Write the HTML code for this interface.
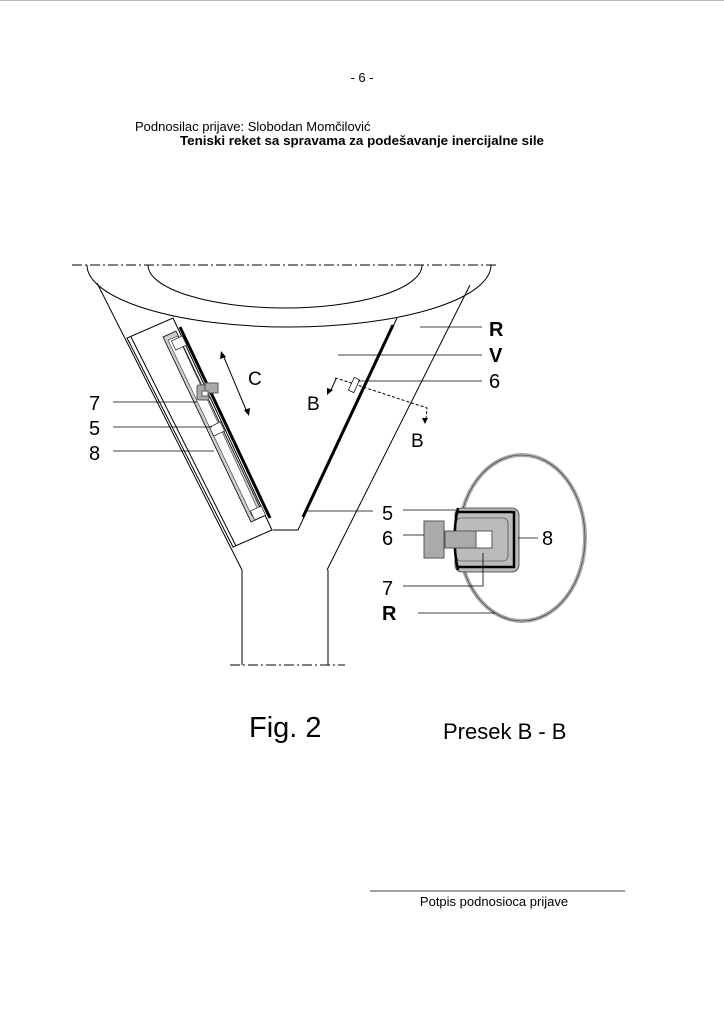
<!DOCTYPE html>
<html><head><style>
body{margin:0;background:#fff}
svg{display:block}
text{font-family:"Liberation Sans",sans-serif}
</style></head><body>
<svg width="724" height="1024" viewBox="0 0 724 1024">
<line x1="0" y1="0.5" x2="724" y2="0.5" stroke="#bbb"/>
<text x="362" y="82" font-size="13" text-anchor="middle">- 6 -</text>
<text x="135" y="131" font-size="13">Podnosilac prijave: Slobodan Momčilović</text>
<text x="180" y="145" font-size="13" font-weight="bold" textLength="364" lengthAdjust="spacingAndGlyphs">Teniski reket sa spravama za podešavanje inercijalne sile</text>

<g fill="none" stroke="#000" stroke-width="1">
<line x1="72" y1="265" x2="496" y2="265" stroke-dasharray="10,3,2,3"/>
<path d="M87 265 A202 62 0 0 0 491 265"/>
<path d="M148 265 A137 43 0 0 0 422 265"/>
<line x1="97" y1="283" x2="242" y2="570"/>
<line x1="470" y1="285" x2="327" y2="570"/>
<polygon points="127,338 173,318 272,530 233,547"/>
<line x1="131" y1="337" x2="236" y2="546"/>
<polyline points="397,318 298,530 273,530"/>
<line x1="180" y1="327" x2="270" y2="518" stroke-width="3"/>
<line x1="393" y1="325" x2="303" y2="517" stroke-width="3"/>
<line x1="242" y1="570" x2="242" y2="665"/>
<line x1="328" y1="570" x2="328" y2="665"/>
<line x1="230" y1="665" x2="345" y2="665" stroke-dasharray="10,3,2,3"/>
</g>
<polygon points="163,337 176,331 264,516 251,522" fill="#ccc" stroke="#000" stroke-width="0.8"/>
<polygon points="168,340 178,336 259,512 252,516" fill="#fff" stroke="#000" stroke-width="0.5"/>
<rect x="173" y="338" width="12" height="10" fill="#fff" stroke="#000" stroke-width="0.6" transform="rotate(-25 179 343)"/>
<rect x="252" y="508" width="12" height="10" fill="#fff" stroke="#000" stroke-width="0.6" transform="rotate(-25 258 513)"/>
<rect x="211" y="424" width="12" height="10" fill="#fff" stroke="#000" stroke-width="0.6" transform="rotate(-25 217 429)"/>
<rect x="197" y="385" width="12" height="15" rx="2" fill="#aaa" stroke="#555"/>
<rect x="205" y="383" width="13" height="10" fill="#aaa" stroke="#555"/>
<rect x="202" y="391" width="6" height="5" fill="#fff" stroke="#555"/>
<line x1="223" y1="355" x2="247" y2="412" stroke="#000"/>
<polygon points="221,351 220,359 226,357" fill="#000"/>
<polygon points="249,416 244,410 250,408" fill="#000"/>
<text x="248" y="385" font-size="19">C</text>
<polyline points="335,378 339,379 427,408 426,420" fill="none" stroke="#000" stroke-dasharray="3,2"/>
<line x1="336" y1="379" x2="330" y2="392" stroke="#000"/>
<polygon points="327,395 327,388 333,390" fill="#000"/>
<polygon points="425,424 422,418 428,418" fill="#000"/>
<rect x="351" y="378" width="6" height="14" fill="#fff" stroke="#000" stroke-width="0.7" transform="rotate(25 354 385)"/>
<text x="307" y="410" font-size="19">B</text>
<text x="411" y="447" font-size="19">B</text>
<g stroke="#000" stroke-width="0.8">
<line x1="420" y1="327" x2="482" y2="327"/>
<line x1="338" y1="355" x2="482" y2="355"/>
<line x1="358" y1="381" x2="482" y2="381"/>
<line x1="113" y1="402" x2="197" y2="402"/>
<line x1="113" y1="427" x2="212" y2="427"/>
<line x1="113" y1="451" x2="214" y2="451"/>
<line x1="306" y1="511" x2="373" y2="511"/>
</g>
<text x="489" y="336" font-size="20" font-weight="bold">R</text>
<text x="489" y="362" font-size="20" font-weight="bold">V</text>
<text x="489" y="388" font-size="20">6</text>
<text x="89" y="410" font-size="20">7</text>
<text x="89" y="435" font-size="20">5</text>
<text x="89" y="460" font-size="20">8</text>
<ellipse cx="522" cy="538" rx="63" ry="83" fill="none" stroke="#aaa" stroke-width="4"/>
<ellipse cx="522" cy="538" rx="63" ry="83" fill="none" stroke="#333" stroke-width="0.6"/>
<rect x="455" y="508" width="64" height="64" rx="7" fill="#bbb" stroke="#333" stroke-width="0.8"/>
<path d="M457 512 H514 V567 H457" fill="none" stroke="#000" stroke-width="2.5"/>
<rect x="456" y="518" width="52" height="43" rx="5" fill="#bbb" stroke="#333" stroke-width="0.6"/>
<path d="M458 508 Q451 538 458 570" fill="none" stroke="#000" stroke-width="2.5"/>
<rect x="424" y="521" width="20" height="37" fill="#aaa" stroke="#555"/>
<rect x="445" y="531" width="47" height="17" fill="#aaa" stroke="#555"/>
<rect x="476" y="531" width="16" height="17" fill="#fff" stroke="#555"/>
<g stroke="#000" stroke-width="0.8">
<line x1="403" y1="510" x2="456" y2="510"/>
<line x1="403" y1="535" x2="424" y2="535"/>
<line x1="518" y1="538" x2="538" y2="538"/>
<polyline points="403,586 483,586 483,553" fill="none"/>
<line x1="418" y1="613" x2="495" y2="613"/>
</g>
<text x="382" y="520" font-size="20">5</text>
<text x="382" y="545" font-size="20">6</text>
<text x="542" y="545" font-size="20">8</text>
<text x="382" y="595" font-size="20">7</text>
<text x="382" y="620" font-size="20" font-weight="bold">R</text>

<text x="249" y="737" font-size="29">Fig. 2</text>
<text x="443" y="739" font-size="22">Presek B - B</text>
<line x1="370" y1="891" x2="625" y2="891" stroke="#000" stroke-width="0.8"/>
<text x="494" y="906" font-size="13" text-anchor="middle">Potpis podnosioca prijave</text>
</svg>
</body></html>
